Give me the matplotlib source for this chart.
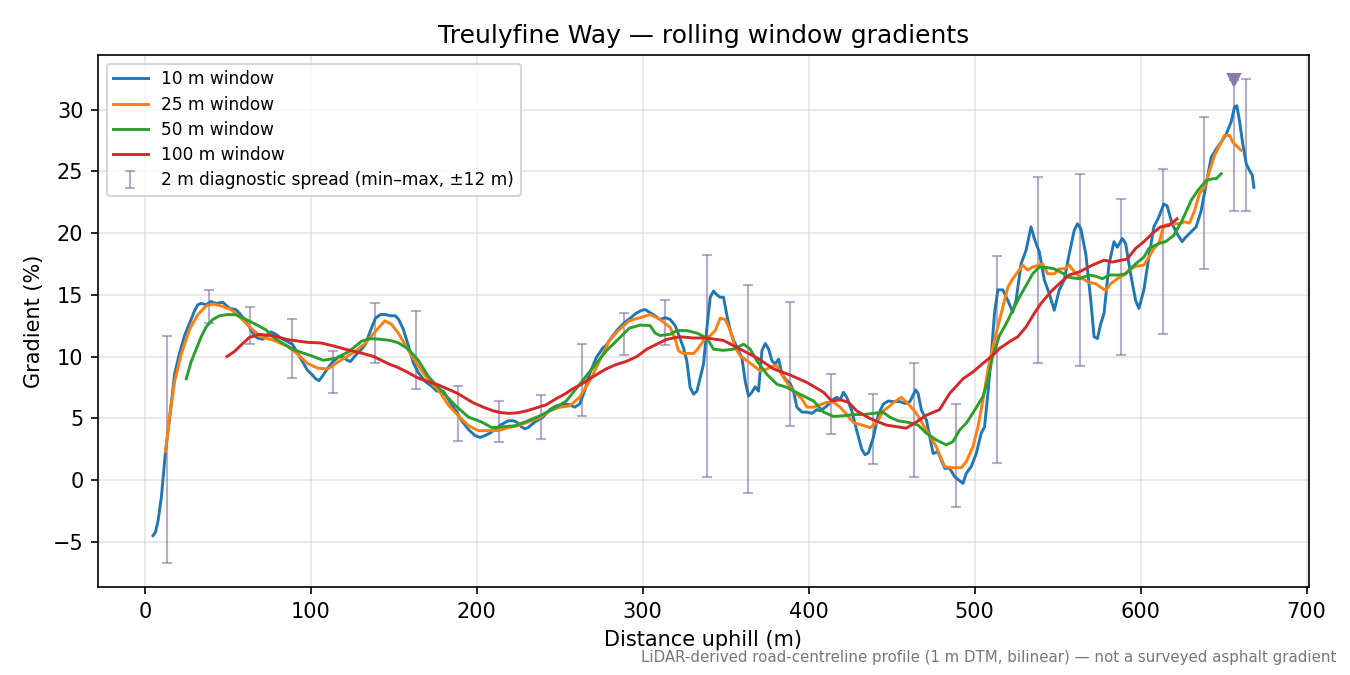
import matplotlib
matplotlib.use("Agg")
import matplotlib.pyplot as plt
import numpy as np

# ---- data ----
x10 = [5, 6.5, 8, 10, 12.5, 15.5, 18, 21, 24, 27, 30, 32, 34, 37, 40, 43, 47, 51, 55, 59, 63, 66, 68, 71,
       73.5, 76, 79, 82, 86, 89, 92, 95, 98, 101, 103, 105, 107, 109, 111, 113.5, 117, 120, 122, 124, 127,
       130, 133, 136, 139, 142, 145, 148, 151, 153, 155.8, 158.8, 161.8, 164.8, 168.8, 172.9, 175.9, 179.9,
       184, 188, 191, 195, 199, 202, 205, 208, 211, 215, 219, 222, 224, 227, 229, 231, 235, 240, 244, 248,
       253, 256, 259, 262, 265, 268, 272, 276, 278, 281, 285, 289, 293, 296, 299.5, 301.5, 304.5, 307.5,
       310.5, 313.6, 316.6, 319.6, 321.6, 324.6, 326.6, 328.6, 330.7, 332.7, 334.7, 336.7, 338.7, 340.7,
       342.7, 344.7, 346.7, 348.7, 350.8, 352.8, 354.8, 357.8, 359.8, 361.8, 363.8, 365.8, 367.8, 369.8,
       371.9, 373.9, 375.9, 377.9, 379.9, 381.9, 383.9, 385.9, 388.9, 390.9, 392.9, 396, 399, 402, 405,
       407, 411, 415, 417, 419, 421, 423, 426, 429, 432, 434, 436, 439, 442, 445, 448, 451, 455, 458, 461,
       463, 464.5, 466, 468, 471, 473, 475, 478, 480, 482, 485, 488, 491, 493, 495, 498, 501, 504, 506,
       508, 510, 512, 514, 517, 520, 523, 525, 528, 531, 534, 536, 539, 542, 545, 548, 551, 554, 557, 560,
       562, 564, 567, 570, 572, 574, 576, 578, 581, 584, 586, 589, 591, 594, 597, 599, 602, 605, 608, 611,
       614, 616, 619, 622, 625, 627.5, 630.5, 633.5, 636.5, 639.6, 642.6, 645.6, 648.6, 651.6, 654.6,
       656.6, 658, 659.6, 661.6, 663.7, 665.7, 667.3, 668.3]
g10 = [-4.5, -4.2, -3.3, -1.4, 2.3, 5.6, 8.6, 10.3, 11.7, 12.7, 13.7, 14.2, 14.3, 14.2, 14.45, 14.3, 14.4,
       13.9, 13.8, 13.2, 12.4, 11.7, 11.5, 11.4, 11.7, 12.0, 11.8, 11.5, 11.2, 11.0, 10.3, 9.6, 8.9, 8.5,
       8.2, 8.05, 8.4, 8.8, 9.2, 9.6, 10.0, 9.9, 9.7, 9.6, 10.1, 10.5, 11.0, 12.1, 13.1, 13.4, 13.4, 13.3,
       13.3, 13.0, 12.2, 10.9, 9.5, 8.7, 8.0, 7.6, 7.2, 7.2, 6.3, 5.5, 4.8, 4.1, 3.6, 3.45, 3.6, 3.8, 4.1,
       4.5, 4.8, 4.8, 4.7, 4.3, 4.15, 4.25, 4.7, 5.1, 5.7, 6.0, 6.15, 6.1, 5.9, 6.15, 7.2, 8.6, 9.9, 10.7,
       10.9, 11.5, 12.2, 12.75, 13.15, 13.5, 13.75, 13.8, 13.55, 13.3, 13.0, 13.15, 13.0, 12.5, 11.8, 10.7,
       9.65, 7.5, 6.95, 7.2, 8.3, 9.4, 12.3, 14.8, 15.3, 15.0, 14.8, 14.8, 13.3, 12.1, 11.3, 10.5, 9.9, 8.0,
       6.8, 7.1, 7.55, 7.2, 10.5, 11.05, 10.6, 9.65, 9.4, 9.8, 8.6, 8.2, 7.8, 7.2, 5.9, 5.5, 5.5, 5.4, 5.7,
       5.6, 6.0, 6.55, 6.7, 6.5, 7.1, 6.7, 5.6, 4.0, 2.5, 2.05, 2.2, 3.45, 5.3, 6.15, 6.4, 6.35, 6.35, 6.2,
       6.35, 6.9, 7.3, 7.0, 5.65, 4.85, 3.5, 2.15, 2.3, 1.6, 0.95, 0.95, 0.27, -0.05, -0.27, 0.55, 1.1,
       2.15, 3.8, 4.3, 7.0, 10.0, 13.5, 15.4, 15.4, 14.55, 13.6, 14.55, 17.5, 18.6, 20.5, 19.55, 18.45,
       16.2, 15.1, 13.75, 15.4, 16.2, 18.3, 20.2, 20.75, 20.35, 18.3, 14.55, 11.6, 11.45, 12.65, 13.5,
       17.5, 19.3, 18.85, 19.55, 19.15, 16.7, 14.55, 13.9, 15.4, 18.05, 20.5, 21.3, 22.35, 22.2, 20.75,
       19.95, 19.3, 19.7, 20.1, 20.5, 21.8, 24.0, 26.15, 26.8, 27.35, 28.0, 29.0, 30.2, 30.3, 29.1, 27.2,
       25.6, 25.05, 24.7, 23.7]

x25 = [12.5, 15, 18, 22, 27, 32, 37, 41, 46, 52, 58, 64, 70, 78, 86.5, 92, 98.5, 104.5, 110.5, 114.5, 120.6,
       126.6, 132.7, 138.7, 144.7, 148.7, 152.8, 158.8, 164.8, 170.8, 176.9, 183, 189, 195, 201, 207, 213,
       219, 225, 231, 238, 244, 250, 256, 262, 268, 274, 280, 286, 292, 298.5, 304.5, 310.5, 316.6, 319.6,
       321.6, 324.6, 330.7, 333.7, 336.7, 340.7, 343.7, 346.7, 349.8, 352.8, 355.8, 358.8, 362.8, 366.8,
       370.9, 374.9, 378.9, 380.9, 384.9, 388.9, 392.9, 396, 399, 403, 407, 411, 415, 419, 423, 427, 431,
       437, 441, 445, 448, 451.8, 455.8, 459.8, 464.9, 470.9, 476.9, 481.9, 485.9, 492, 495, 499, 502, 505,
       508, 511, 514, 517, 520, 523, 526, 529, 532, 535, 541, 544, 548, 551, 554, 557, 561, 565, 569, 573,
       576, 579, 582, 586, 590, 593, 597, 602, 605, 608, 611, 614, 618, 623, 626.5, 629.5, 632.5, 635.5,
       638.6, 641.6, 644.6, 647.6, 650.6, 653.6, 655.6, 658.6, 660.6]
g25 = [2.3, 5.2, 8.0, 10.2, 12.2, 13.4, 14.1, 14.25, 14.1, 13.8, 13.1, 12.3, 11.6, 11.3, 10.8, 10.2, 9.4,
       9.05, 9.0, 9.4, 9.9, 10.4, 11.05, 12.0, 12.9, 12.6, 11.9, 10.5, 9.25, 8.1, 7.3, 6.05, 5.2, 4.4, 4.0,
       4.0, 4.0, 4.25, 4.4, 4.7, 5.07, 5.6, 5.9, 6.0, 6.7, 8.0, 9.65, 11.3, 12.2, 12.9, 13.15, 13.4, 13.0,
       12.35, 11.4, 10.45, 10.25, 10.25, 10.7, 11.3, 11.7, 12.1, 13.1, 13.0, 12.1, 10.7, 10.05, 9.65, 9.25,
       8.85, 9.0, 9.25, 9.25, 8.3, 7.5, 6.95, 6.55, 5.9, 5.9, 6.1, 6.3, 6.3, 5.9, 5.3, 4.65, 4.5, 4.25,
       4.65, 5.6, 5.9, 6.35, 6.7, 6.2, 5.4, 4.05, 2.7, 1.1, 1.0, 1.0, 1.5, 2.7, 4.3, 6.45, 8.9, 10.8, 12.4,
       14.0, 15.6, 16.3, 16.85, 17.4, 17.0, 17.25, 17.5, 16.7, 16.7, 17.1, 17.1, 17.4, 16.7, 16.3, 16.0,
       15.9, 15.6, 15.35, 15.9, 16.3, 16.6, 17.0, 17.3, 17.4, 18.05, 18.75, 19.15, 20.6, 20.75, 20.75, 20.9,
       20.8, 21.8, 23.2, 23.7, 25.05, 26.3, 27.1, 27.9, 27.9, 27.35, 26.95, 26.7]

x50 = [25, 28, 31, 34, 37, 41, 45, 50, 55, 61, 67, 73, 78, 84, 89, 95, 100.5, 107.5, 115, 123, 130.7, 135.7,
       142, 148, 153, 158.8, 164.8, 170.8, 178.9, 187, 195, 203, 209, 215, 223, 231, 238, 246, 254, 262,
       270, 278, 286, 292, 298.5, 304.5, 307.5, 310.5, 316.6, 320.6, 326.6, 332.7, 338.7, 342.7, 348.7,
       354.8, 360.8, 364.8, 368.8, 374.9, 381, 387, 391, 397, 403, 409, 415, 421, 427, 433, 439, 444.8,
       448.8, 453.8, 460.8, 465.9, 470.9, 476.9, 482.9, 486.9, 491, 495, 500, 505, 508, 511, 515, 519, 523,
       527, 531, 535, 539, 544, 548, 553, 557, 563, 569, 573, 577, 581, 587, 591, 597, 602, 605, 611, 615,
       620, 625, 630.5, 634.5, 639.6, 643.6, 645.6, 648.6]
g50 = [8.2, 9.6, 10.6, 11.6, 12.4, 13.0, 13.3, 13.4, 13.38, 13.0, 12.6, 12.16, 11.5, 11.0, 10.6, 10.3, 10.05,
       9.7, 9.85, 10.4, 11.25, 11.45, 11.4, 11.3, 11.1, 10.6, 9.7, 8.4, 7.2, 6.05, 5.1, 4.7, 4.25, 4.3, 4.4,
       4.8, 5.2, 5.75, 6.4, 7.75, 9.1, 10.45, 11.5, 12.3, 12.55, 12.5, 11.9, 11.7, 11.8, 12.1, 12.1, 11.9,
       11.5, 10.6, 10.5, 10.6, 11.0, 10.6, 9.65, 8.55, 7.75, 7.5, 7.2, 6.8, 6.4, 5.5, 5.15, 5.2, 5.3, 5.3,
       5.4, 5.5, 5.1, 4.8, 4.65, 4.45, 3.8, 3.25, 2.85, 3.1, 4.05, 4.6, 5.65, 6.75, 8.1, 10.1, 11.7, 12.65,
       13.75, 14.8, 15.75, 16.7, 17.25, 17.2, 17.1, 16.75, 16.4, 16.3, 16.6, 16.5, 16.3, 16.6, 16.6, 16.7,
       17.5, 18.05, 18.75, 19.15, 19.3, 19.8, 21.0, 22.65, 23.45, 24.25, 24.4, 24.4, 24.8]

x100 = [49.5, 54, 57, 63, 69, 77, 87, 98, 106, 114, 122, 130, 138, 147, 152, 158, 164, 170, 176, 182, 188,
        193, 198, 204, 210, 215, 220, 225, 230, 236, 242, 248, 253, 258, 263, 268, 273, 278, 284, 290,
        296.5, 302.5, 308.5, 314.6, 322.6, 330.7, 338.7, 348.7, 358.8, 368.8, 378.9, 388.9, 399, 409,
        414, 419, 424, 429, 436.7, 446.8, 458.8, 464.9, 470.9, 478.9, 484.9, 493, 499, 505, 511, 515, 521,
        526, 531, 536, 540, 546, 551, 557, 563, 571, 578, 583, 592, 597, 602, 607, 612, 617, 622]
g100 = [10.0, 10.4, 10.8, 11.55, 11.8, 11.68, 11.35, 11.15, 11.1, 10.85, 10.55, 10.3, 10.0, 9.4, 9.15,
        8.75, 8.3, 8.0, 7.75, 7.4, 7.05, 6.65, 6.25, 5.9, 5.6, 5.45, 5.4, 5.45, 5.6, 5.85, 6.1, 6.6, 6.95,
        7.4, 7.75, 8.2, 8.6, 9.0, 9.35, 9.6, 10.0, 10.6, 11.0, 11.4, 11.6, 11.5, 11.5, 11.3, 10.6, 9.9, 9.0,
        8.5, 7.9, 7.1, 6.4, 6.5, 6.3, 5.6, 5.0, 4.45, 4.2, 4.7, 5.25, 5.7, 7.0, 8.2, 8.75, 9.45, 10.1, 10.65,
        11.2, 11.6, 12.4, 13.5, 14.3, 15.25, 15.9, 16.6, 16.85, 17.4, 17.8, 17.65, 17.9, 18.75, 19.3, 19.95,
        20.5, 20.6, 21.15]

spread_x = [13.5, 38.5, 63.5, 88.5, 113.5, 138.5, 163.5, 188.5, 213.5, 238.5, 263.5, 288.5, 313.5, 338.5,
            363.5, 388.5, 413.5, 438.5, 463.5, 488.5, 513.5, 538.5, 563.5, 588.5, 613.5, 638.5, 663.5]
spread_max = [11.7, 15.35, 14.05, 13.0, 10.45, 14.3, 13.65, 7.65, 6.4, 6.9, 11.05, 13.55, 14.55, 18.25,
              15.8, 14.4, 8.6, 7.0, 9.5, 6.15, 18.1, 24.5, 24.8, 22.75, 25.2, 29.4, 32.45]
spread_min = [-6.7, 12.75, 11.0, 8.3, 7.05, 9.45, 7.4, 3.15, 3.05, 3.35, 5.2, 10.1, 10.95, 0.25, -1.05,
              4.4, 3.75, 1.3, 0.27, -2.15, 1.42, 9.5, 9.2, 10.1, 11.85, 17.05, 21.75]

steep_x = [656.5]
steep_max = [32.4]
steep_min = [21.75]

series = [("10 m window", x10, g10, "#1f77b4"),
          ("25 m window", x25, g25, "#ff7f0e"),
          ("50 m window", x50, g50, "#2ca02c"),
          ("100 m window", x100, g100, "#d62728")]

title = "Treulyfine Way \u2014 rolling window gradients"
xlabel = "Distance uphill (m)"
ylabel = "Gradient (%)"
note = "LiDAR-derived road-centreline profile (1 m DTM, bilinear) \u2014 not a surveyed asphalt gradient"
spread_label = "2 m diagnostic spread (min\u2013max, \u00b112 m)"

# ---- plot ----
fig = plt.figure(figsize=(9, 4.5), dpi=150)
ax = fig.add_axes([0.0726, 0.1304, 0.897, 0.788])

for lab, xs, ys, c in series:
    ax.plot(xs, ys, color=c, lw=1.4, label=lab, zorder=3)

ecol = (0.48, 0.41, 0.65, 0.55)
sx = np.array(spread_x); smax = np.array(spread_max); smin = np.array(spread_min)
mid = (smax + smin) / 2
ax.errorbar(sx, mid, yerr=[mid - smin, smax - mid], fmt="none", ecolor=ecol,
            elinewidth=1.0, capsize=2.2, capthick=1.0, label=spread_label, zorder=2)
tx = np.array(steep_x); tmax = np.array(steep_max); tmin = np.array(steep_min)
tmid = (tmax + tmin) / 2
ax.errorbar(tx, tmid, yerr=[tmid - tmin, tmax - tmid], fmt="none", ecolor=ecol,
            elinewidth=1.0, capsize=2.2, capthick=1.0, zorder=2)
ax.plot(tx, tmax, marker="v", ls="none", color="#8a7bab", ms=6, zorder=4)

ax.grid(True, color="#cccccc", alpha=0.5, lw=0.8)
ax.set_axisbelow(True)
ax.set_xticks([0, 100, 200, 300, 400, 500, 600, 700])
ax.set_title(title, fontsize=12)
ax.set_xlabel(xlabel, fontsize=10)
ax.set_ylabel(ylabel, fontsize=10)
ax.tick_params(labelsize=10)
ax.legend(loc="upper left", fontsize=8.2, labelspacing=0.42)
fig.text(0.99, 0.015, note, ha="right", va="bottom", fontsize=7.2, color="#777777")

fig.savefig("out.png", dpi=150)
